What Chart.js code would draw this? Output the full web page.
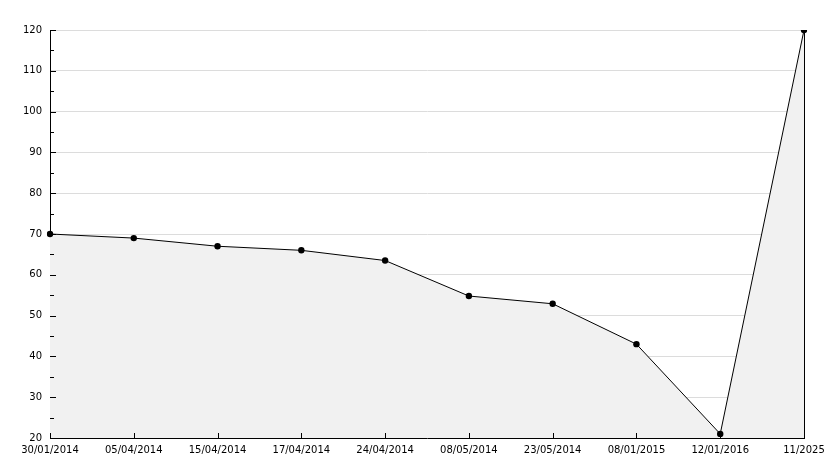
<!DOCTYPE html>
<html>
<head>
<meta charset="utf-8">
<script src="https://cdn.jsdelivr.net/npm/chart.js@4/dist/chart.umd.min.js"></script>
<style>
html,body{margin:0;padding:0;background:#fff;}
#wrap{width:834px;height:468px;position:relative;}
</style>
</head>
<body>
<div id="wrap"><canvas id="c" width="834" height="468"></canvas></div>
<script>
const categories = ["30/01/2014","05/04/2014","15/04/2014","17/04/2014","24/04/2014","08/05/2014","23/05/2014","08/01/2015","12/01/2016","11/2025"];
const values = [70, 69, 67, 66, 63.5, 54.8, 52.9, 43, 21, 120];
const yMin = 20, yMax = 120, yStep = 10, yMinorStep = 5;

const innerTicks = {
  id: 'innerTicks',
  afterDatasetsDraw(chart) {
    const ctx = chart.ctx, ca = chart.chartArea;
    const ys = chart.scales.y, xs = chart.scales.x;
    ctx.save();
    ctx.strokeStyle = '#000';
    ctx.lineWidth = 1;
    ctx.beginPath();
    for (let v = yMin; v <= yMax; v += yMinorStep) {
      const py = Math.round(ys.getPixelForValue(v)) + 0.5;
      const len = (v % yStep === 0) ? 6 : 4;
      ctx.moveTo(ca.left, py); ctx.lineTo(ca.left + len, py);
    }
    for (let i = 0; i < categories.length; i++) {
      const px = Math.round(xs.getPixelForValue(i)) + 0.5;
      ctx.moveTo(px, ca.bottom); ctx.lineTo(px, ca.bottom - 5);
    }
    ctx.stroke();
    ctx.restore();
  }
};

new Chart(document.getElementById('c'), {
  type: 'line',
  data: {
    labels: categories,
    datasets: [{
      data: values,
      borderColor: '#000',
      borderWidth: 1,
      backgroundColor: '#f1f1f1',
      fill: 'start',
      tension: 0,
      pointRadius: 3.2,
      pointHoverRadius: 3.2,
      pointStyle: 'circle',
      pointBackgroundColor: '#000',
      pointBorderColor: '#000',
      pointBorderWidth: 0
    }]
  },
  options: {
    responsive: false,
    animation: false,
    events: [],
    layout: { padding: { top: 30, right: 30, left: 0, bottom: 0 } },
    plugins: { legend: { display: false }, tooltip: { enabled: false } },
    scales: {
      x: {
        type: 'category',
        offset: false,
        grid: { display: false, drawTicks: false },
        border: { display: true, color: '#000', width: 1 },
        ticks: { color: '#000', font: { family: 'DejaVu Sans', size: 10 }, padding: 6, maxRotation: 0, autoSkip: false },
        afterFit(s) { s.height = 30; }
      },
      y: {
        min: yMin, max: yMax,
        grid: { color(c) { return c.tick && c.tick.value === yMin ? 'rgba(0,0,0,0)' : '#dcdcdc'; }, drawTicks: false, lineWidth: 1 },
        border: { display: true, color: '#000', width: 1 },
        ticks: { stepSize: yStep, color: '#000', font: { family: 'DejaVu Sans', size: 10 }, padding: 8 },
        afterFit(s) { s.width = 50; }
      },
      y2: {
        position: 'right',
        min: yMin, max: yMax,
        grid: { drawOnChartArea: false, drawTicks: false },
        border: { display: true, color: '#000', width: 1 },
        ticks: { display: false },
        afterFit(s) { s.width = 0; }
      }
    }
  },
  plugins: [innerTicks]
});
</script>
</body>
</html>
